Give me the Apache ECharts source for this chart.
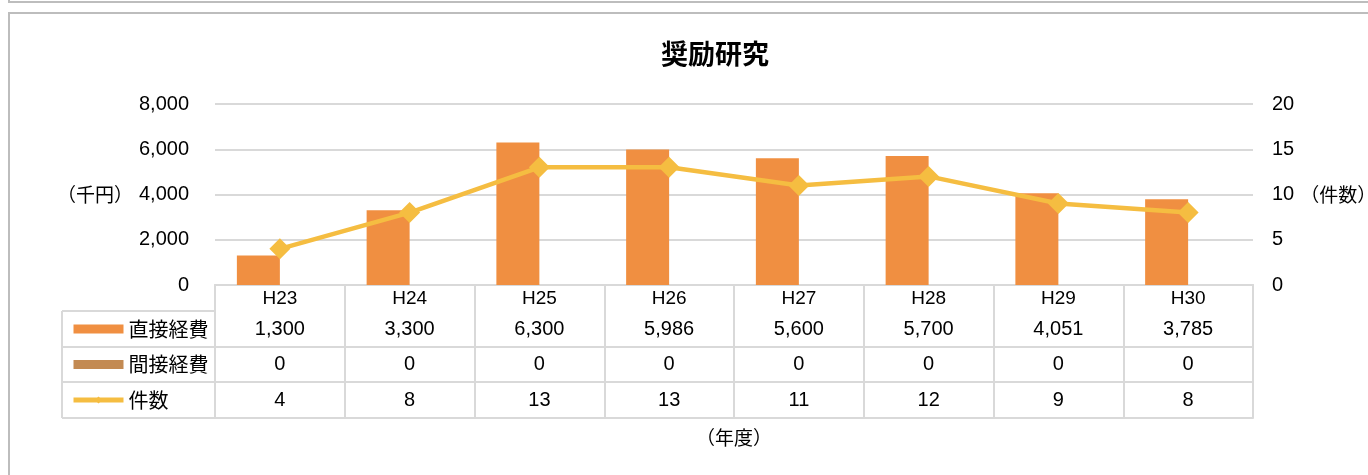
<!DOCTYPE html>
<html>
<head>
<meta charset="utf-8">
<script src="https://cdn.jsdelivr.net/npm/echarts@6/dist/echarts.min.js"></script>
<style>
  html, body { margin: 0; padding: 0; background: #fff; }
  .prev-panel {
    position: absolute; left: 8px; top: -20px; width: 1400px; height: 23px;
    border: 2px solid #bdbdbd; box-sizing: border-box;
  }
  .frame {
    position: absolute; left: 8px; top: 12px; width: 1400px; height: 500px;
    border: 2px solid #bdbdbd; box-sizing: border-box;
  }
  #chart { position: absolute; left: 0; top: 0; width: 1368px; height: 475px; }
</style>
</head>
<body>
<div class="prev-panel"></div>
<div class="frame"></div>
<div id="chart"></div>
<script>
// --- データ ---
const years = ['H23', 'H24', 'H25', 'H26', 'H27', 'H28', 'H29', 'H30'];
const directCost = [1300, 3300, 6300, 5986, 5600, 5700, 4051, 3785];
const indirectCost = [0, 0, 0, 0, 0, 0, 0, 0];
const counts = [4, 8, 13, 13, 11, 12, 9, 8];

// 配色
const COLORS = {
  direct: '#F08F41',
  indirect: '#C38A52',
  count: '#F5BD41',
  grid: '#D9D9D9',
  text: '#000'
};
const FONT = '"Noto Sans CJK JP", "Noto Sans", sans-serif';
const FONT_NUM = '"Liberation Sans", "Noto Sans CJK JP", sans-serif';

// 表のレイアウト (グリッド下端からの距離)
const GRID = { left: 215, top: 104, width: 1038, height: 181 };
const ROW_OFFSETS = [26, 62, 97, 133];
const TABLE_LEFT = 62;

const fmt = (v) => String(v).replace(/\B(?=(\d{3})+(?!\d))/g, ',');

const chart = echarts.init(document.getElementById('chart'));

const bottomY = GRID.top + GRID.height;

// 表の行 (x軸を重ねて描く)
const rowAxis = (offset, values, margin) => ({
  type: 'category',
  data: years,
  position: 'bottom',
  offset: offset,
  boundaryGap: true,
  axisLine: { show: true, lineStyle: { color: COLORS.grid, width: 2 } },
  axisTick: { show: false },
  splitLine: { show: false },
  axisLabel: values ? {
    show: true,
    interval: 0,
    margin: margin,
    color: COLORS.text,
    fontSize: 20,
    fontFamily: FONT_NUM,
    formatter: (v, i) => fmt(values[i])
  } : { show: false }
});

const option = {
  animation: false,
  backgroundColor: 'transparent',
  textStyle: { fontFamily: FONT },
  title: {
    text: '奨励研究',
    left: 656,
    top: 35,
    textStyle: { fontSize: 27, fontWeight: 'bold', color: '#000', fontFamily: FONT }
  },
  grid: {
    left: GRID.left, top: GRID.top, width: GRID.width, height: GRID.height,
    containLabel: false,
    outerBoundsMode: 'none'
  },
  legend: {
    orient: 'vertical',
    left: 66,
    top: 313,
    itemWidth: 50,
    itemHeight: 9,
    itemGap: 13.5,
    textStyle: { fontSize: 20, color: COLORS.text, fontFamily: FONT, lineHeight: 22 },
    data: [
      { name: '直接経費', icon: 'rect' },
      { name: '間接経費', icon: 'rect' },
      { name: '件数', lineStyle: { width: 5, color: COLORS.count } }
    ]
  },
  xAxis: [
    {
      type: 'category',
      data: years,
      position: 'bottom',
      boundaryGap: true,
      axisLine: { show: true, lineStyle: { color: COLORS.grid, width: 2 } },
      axisTick: {
        show: true,
        interval: 0,
        length: ROW_OFFSETS[3],
        lineStyle: { color: COLORS.grid, width: 2 }
      },
      axisLabel: {
        interval: 0,
        margin: 4,
        color: COLORS.text,
        fontSize: 19,
        fontFamily: FONT_NUM
      }
    },
    rowAxis(ROW_OFFSETS[0], directCost, 8),
    rowAxis(ROW_OFFSETS[1], indirectCost, 7.5),
    rowAxis(ROW_OFFSETS[2], counts, 8),
    Object.assign(rowAxis(ROW_OFFSETS[3], null, 0), {
      name: '（年度）',
      nameLocation: 'middle',
      nameGap: 10,
      nameTextStyle: { fontSize: 19, color: COLORS.text, fontFamily: FONT, verticalAlign: 'top' }
    })
  ],
  yAxis: [
    {
      type: 'value',
      min: 0,
      max: 8000,
      interval: 2000,
      name: '（千円）',
      nameLocation: 'middle',
      nameRotate: 0,
      nameGap: 82,
      nameTextStyle: { fontSize: 19, color: COLORS.text, fontFamily: FONT },
      axisLine: { show: false },
      axisTick: { show: false },
      splitLine: { show: true, lineStyle: { color: COLORS.grid, width: 2 } },
      axisLabel: {
        margin: 26,
        color: COLORS.text,
        fontSize: 20,
        fontFamily: FONT_NUM,
        formatter: (v) => fmt(v)
      }
    },
    {
      type: 'value',
      min: 0,
      max: 20,
      interval: 5,
      position: 'right',
      name: '（件数）',
      nameLocation: 'middle',
      nameRotate: 0,
      nameGap: 42,
      nameTextStyle: { fontSize: 19, color: COLORS.text, fontFamily: FONT, padding: [3, 0, 0, 0] },
      axisLine: { show: false },
      axisTick: { show: false },
      splitLine: { show: false },
      axisLabel: {
        margin: 19,
        color: COLORS.text,
        fontSize: 20,
        fontFamily: FONT_NUM
      }
    }
  ],
  series: [
    {
      name: '直接経費',
      type: 'bar',
      data: directCost,
      barWidth: 43,
      barGap: '0%',
      itemStyle: { color: COLORS.direct }
    },
    {
      name: '間接経費',
      type: 'bar',
      data: indirectCost,
      barWidth: 43,
      barGap: '0%',
      itemStyle: { color: COLORS.indirect }
    },
    {
      name: '件数',
      type: 'line',
      yAxisIndex: 1,
      data: counts,
      symbol: 'diamond',
      symbolSize: 21,
      z: 5,
      lineStyle: { color: COLORS.count, width: 4.5 },
      itemStyle: { color: COLORS.count }
    }
  ],
  // 表の左列 (凡例欄) の枠線
  graphic: [
    {
      type: 'group',
      silent: true,
      children: [
        {
          type: 'line',
          shape: { x1: TABLE_LEFT, y1: bottomY + ROW_OFFSETS[0], x2: TABLE_LEFT, y2: bottomY + ROW_OFFSETS[3] },
          style: { stroke: COLORS.grid, lineWidth: 2 }
        }
      ].concat(ROW_OFFSETS.map((off) => ({
        type: 'line',
        shape: { x1: TABLE_LEFT, y1: bottomY + off, x2: GRID.left, y2: bottomY + off },
        style: { stroke: COLORS.grid, lineWidth: 2 }
      })))
    }
  ]
};

chart.setOption(option);
</script>
</body>
</html>
